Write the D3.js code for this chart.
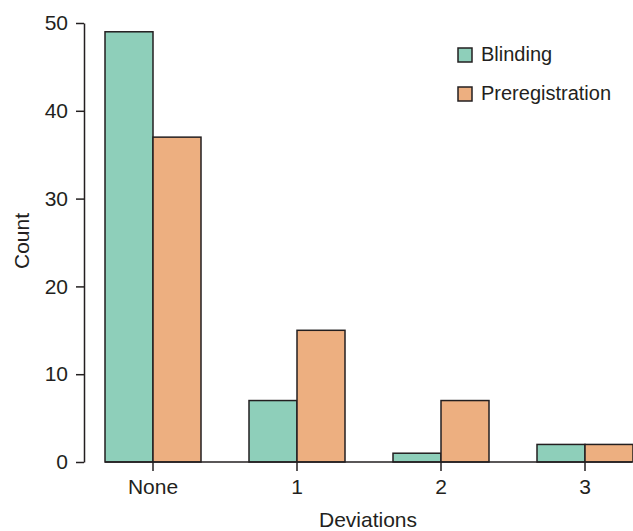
<!DOCTYPE html>
<html><head><meta charset="utf-8">
<script src="https://cdn.jsdelivr.net/npm/d3@7"></script>
<style>body{margin:0;background:#fff}svg{display:block}
text{font-family:"Liberation Sans",Arial,sans-serif;fill:#231f20}</style>
</head><body>
<script>
const categories = ["None","1","2","3"];
const series = ["Blinding","Preregistration"];
const blinding = [49,7,1,2];
const preregistration = [37,15,7,2];
const yTicks = [0,10,20,30,40,50];
const colors = ["#8ecfba","#edaf80"];

const W=633,H=531;
const svg=d3.select("body").append("svg").attr("width",W).attr("height",H);
const x=d3.scaleBand().domain(categories).range([105,633]).paddingInner(1/3).paddingOuter(0);
const xs=d3.scaleBand().domain(series).range([0,x.bandwidth()]);
const y=d3.scaleLinear().domain([0,50]).range([462,23]);
const vals=[blinding,preregistration];

// bars
series.forEach((s,si)=>{
  svg.append("g").selectAll("rect").data(categories).join("rect")
    .attr("x",c=>x(c)+xs(s)).attr("width",xs.bandwidth())
    .attr("y",(c,i)=>y(vals[si][i])).attr("height",(c,i)=>y(0)-y(vals[si][i]))
    .attr("fill",colors[si]).attr("stroke","#231f20").attr("stroke-width",1.5);
});

// x axis
const gx=svg.append("g").attr("transform","translate(0,462)");
gx.append("line").attr("x1",x.range()[0]).attr("x2",x.range()[1]-1).attr("stroke","#231f20").attr("stroke-width",1.5);
const xa=gx.append("g").call(d3.axisBottom(x).tickSize(9).tickPadding(8));
xa.select(".domain").remove();
xa.selectAll(".tick line").attr("stroke","#231f20").attr("stroke-width",1.5);
xa.selectAll("text").attr("font-size","21px").style("fill","#231f20").attr("font-family",null);

// y axis
const ya=svg.append("g").attr("transform","translate(84,0)").call(d3.axisLeft(y).tickValues(yTicks).tickSize(8).tickPadding(8).tickSizeOuter(0));
ya.select(".domain").attr("stroke","#231f20").attr("stroke-width",1.5);
ya.selectAll(".tick line").attr("stroke","#231f20").attr("stroke-width",1.5);
ya.selectAll("text").attr("font-size","21px").attr("font-family",null);

// titles
svg.append("text").attr("x",368).attr("y",527).attr("text-anchor","middle").attr("font-size","21px").text("Deviations");
svg.append("text").attr("transform","translate(29,241) rotate(-90)").attr("text-anchor","middle").attr("font-size","21px").text("Count");

// legend
const lg=svg.append("g");
series.forEach((s,i)=>{
  const yy=48+i*39;
  lg.append("rect").attr("x",458).attr("y",yy).attr("width",14).attr("height",14)
    .attr("fill",colors[i]).attr("stroke","#231f20").attr("stroke-width",1.5);
  lg.append("text").attr("x",481).attr("y",yy+13).attr("font-size","20px").text(s);
});
</script>
</body></html>
